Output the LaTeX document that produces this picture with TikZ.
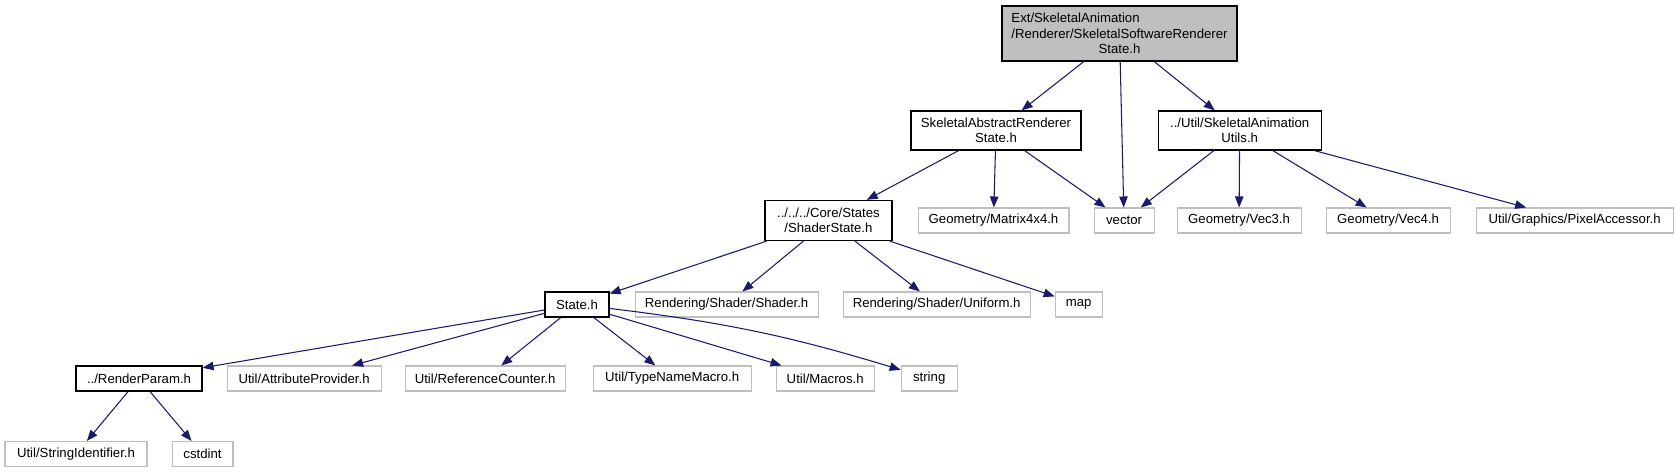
\documentclass[tikz,border=0pt]{standalone}
\usepackage{fontspec}
\setmainfont{Liberation Sans}
\usepackage{tikz}
\usetikzlibrary{arrows.meta,positioning}
\definecolor{EdgeBlue}{RGB}{25,25,112}
\definecolor{BoxGray}{RGB}{191,191,191}

\begin{document}
\begin{tikzpicture}[
    x=0.02cm,y=-0.02cm,
    font=\fontsize{7.5}{8.7}\selectfont,
    hdr/.style={draw=black,line width=0.7pt,inner sep=0pt,
                minimum height=0.5cm,align=center},
    rhdr/.style={hdr,fill=BoxGray},
    ghdr/.style={hdr,draw=BoxGray,line width=0.6pt},
    inc/.style={-{Triangle[length=0.22cm,width=0.17cm]},EdgeBlue,line width=0.6pt}
  ]
  \useasboundingbox (0,0) rectangle (1675,472);
  \node[rhdr,minimum width=4.7cm,minimum height=1.1cm] (root) at (1119.5,33.5)
    {\rlap{Ext/SkeletalAnimation}\phantom{/Renderer/SkeletalSoftwareRenderer}\\/Renderer/SkeletalSoftwareRenderer\\State.h};
  \node[hdr,minimum width=3.4cm,minimum height=0.78cm] (sar) at (996,130.5) {SkeletalAbstractRenderer\\State.h};
  \node[hdr,minimum width=3.26cm,minimum height=0.78cm,right=1.52cm of sar] (utl) {../Util/SkeletalAnimation\\Utils.h};
  % level 3
  \node[ghdr,minimum width=3.02cm] (mat) at (993.5,220.5) {Geometry/Matrix4x4.h};
  \node[hdr,minimum width=2.54cm,minimum height=0.8cm,left=0.5cm of mat] (shs) {../../../Core/States\\/ShaderState.h};
  \node[ghdr,minimum width=1.2cm,right=0.48cm of mat] (vec) {vector};
  \node[ghdr,minimum width=2.48cm,right=0.44cm of vec] (v3) {Geometry/Vec3.h};
  \node[ghdr,minimum width=2.48cm,right=0.48cm of v3] (v4) {Geometry/Vec4.h};
  \node[ghdr,minimum width=3.94cm,right=0.5cm of v4] (pix) {Util/Graphics/PixelAccessor.h};
  % level 4
  \node[hdr,minimum width=1.28cm] (st) at (577,304.5) {State.h};
  \node[ghdr,minimum width=3.66cm,right=0.5cm of st] (shd) {Rendering/Shader/Shader.h};
  \node[ghdr,minimum width=3.74cm,right=0.48cm of shd] (uni) {Rendering/Shader/Uniform.h};
  \node[ghdr,minimum width=0.94cm,right=0.48cm of uni] (map) {map};
  % level 5
  \node[hdr,minimum width=2.52cm] (rp) at (139,378.5) {../RenderParam.h};
  \node[ghdr,minimum width=3.08cm,right=0.48cm of rp] (attr) {Util/AttributeProvider.h};
  \node[ghdr,minimum width=3.2cm,right=0.46cm of attr] (rc) {Util/ReferenceCounter.h};
  \node[ghdr,minimum width=3.16cm,right=0.54cm of rc] (tnm) {Util/TypeNameMacro.h};
  \node[ghdr,minimum width=1.96cm,right=0.48cm of tnm] (mac) {Util/Macros.h};
  \node[ghdr,minimum width=1.12cm,right=0.52cm of mac] (str) {string};
  % level 6
  \node[ghdr,minimum width=2.84cm] (sid) at (76,454) {Util/StringIdentifier.h};
  \node[ghdr,minimum width=1.22cm,right=0.48cm of sid] (cint) {cstdint};
  % includes
  \draw[inc] (root)--(sar); \draw[inc] (root)--(vec); \draw[inc] (root)--(utl);
  \draw[inc] (sar)--(shs); \draw[inc] (sar)--(mat); \draw[inc] (sar)--(vec);
  \draw[inc] (utl)--(vec); \draw[inc] (utl)--(v3);
  \draw[inc] (utl)--(v4); \draw[inc] (utl)--(pix);
  \draw[inc] (shs)--(st); \draw[inc] (shs)--(shd);
  \draw[inc] (shs)--(uni); \draw[inc] (shs)--(map);
  \draw[inc] (st)--(rp); \draw[inc] (st)--(attr); \draw[inc] (st)--(rc);
  \draw[inc] (st)--(tnm); \draw[inc] (st)--(mac);
  \draw[inc] (st) to[bend left=5] (str);
  \draw[inc] (rp)--(sid); \draw[inc] (rp)--(cint);
\end{tikzpicture}
\end{document}
